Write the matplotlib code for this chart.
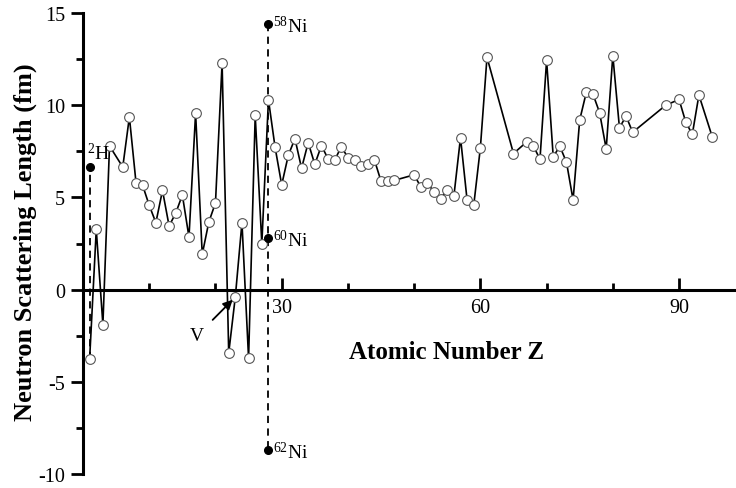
import matplotlib
matplotlib.use("Agg")
import matplotlib.pyplot as plt
from matplotlib.ticker import MultipleLocator

plt.rcParams["font.family"] = ["Liberation Serif", "DejaVu Serif"]
plt.rcParams["mathtext.fontset"] = "custom"
plt.rcParams["mathtext.rm"] = "Liberation Serif"
plt.rcParams["mathtext.default"] = "rm"
plt.rcParams["axes.unicode_minus"] = False

# Coherent neutron scattering lengths of the elements (fm)
atomic_number = [1, 2, 3, 4, 6, 7, 8, 9, 10, 11, 12, 13, 14, 15, 16, 17, 18, 19, 20,
                 21, 22, 23, 24, 25, 26, 27, 28, 29, 30, 31, 32, 33, 34, 35, 36, 37,
                 38, 39, 40, 41, 42, 43, 44, 45, 46, 47, 50, 51, 52, 53, 54, 55, 56,
                 57, 58, 59, 60, 61, 65, 67, 68, 69, 70, 71, 72, 73, 74, 75, 76, 77,
                 78, 79, 80, 81, 82, 83, 88, 90, 91, 92, 93, 95]
scattering_length = [-3.74, 3.26, -1.90, 7.79, 6.646, 9.36, 5.803, 5.654, 4.566, 3.63,
                     5.375, 3.449, 4.149, 5.13, 2.847, 9.577, 1.909, 3.67, 4.70, 12.29,
                     -3.438, -0.382, 3.635, -3.73, 9.45, 2.49, 10.3, 7.718, 5.68, 7.288,
                     8.185, 6.58, 7.97, 6.795, 7.81, 7.09, 7.02, 7.75, 7.16, 7.054, 6.715,
                     6.8, 7.03, 5.88, 5.91, 5.922, 6.225, 5.57, 5.80, 5.28, 4.92, 5.42,
                     5.07, 8.24, 4.84, 4.58, 7.69, 12.6, 7.38, 8.01, 7.79, 7.07, 12.43,
                     7.21, 7.77, 6.91, 4.86, 9.2, 10.7, 10.6, 9.6, 7.63, 12.692, 8.776,
                     9.405, 8.532, 10.0, 10.31, 9.1, 8.417, 10.55, 8.3]

# Selected isotopes
hydrogen_z = 1
hydrogen_b = -3.74
deuterium_b = 6.671
nickel_z = 28
nickel_isotopes = ["58", "60", "62"]
nickel_isotope_b = [14.4, 2.8, -8.7]

y_ticks = [-10, -5, 0, 5, 10, 15]
x_ticks = [30, 60, 90]

fig = plt.figure(figsize=(7.36, 4.89), dpi=100)
ax = fig.add_axes([0.1128, 0.0286, 0.8872, 0.9428])

# isotope dashed connectors
ax.plot([hydrogen_z, hydrogen_z], [hydrogen_b, deuterium_b], ls=(0, (4, 3)),
        color="black", lw=1.3, zorder=2)
ax.plot([nickel_z, nickel_z], [max(nickel_isotope_b), min(nickel_isotope_b)],
        ls=(0, (4, 3)), color="black", lw=1.3, zorder=2)

# element series
ax.plot(atomic_number, scattering_length, color="black", lw=1.2, marker="o",
        markersize=7, markerfacecolor="white", markeredgecolor="#555555",
        markeredgewidth=0.8, zorder=3)

# isotope points
ax.plot([hydrogen_z], [deuterium_b], "o", color="black", markersize=5.5, zorder=4)
ax.plot([nickel_z] * len(nickel_isotope_b), nickel_isotope_b, "o", color="black",
        markersize=5.5, zorder=4)

ax.text(hydrogen_z - 0.35, deuterium_b + 0.75, "$^{2}$H", fontsize=14,
        ha="left", va="center")
for iso, b in zip(nickel_isotopes, nickel_isotope_b):
    ax.text(nickel_z + 0.7, b - 0.1, "$^{%s}$Ni" % iso, fontsize=14,
            ha="left", va="center")

ax.annotate("V", xy=(22.6, -0.55), xytext=(17.2, -2.5), fontsize=14,
            ha="center", va="center",
            arrowprops=dict(arrowstyle="-|>", color="black", lw=1.3,
                            mutation_scale=14, shrinkA=6, shrinkB=0))

ax.text(54.9, -3.37, "Atomic Number Z", fontsize=18, fontweight="bold",
        ha="center", va="center")
fig.text(25 / 736, 1 - 242 / 489, "Neutron Scattering Length (fm)", fontsize=19,
         fontweight="bold", rotation=90, ha="center", va="center")

ax.set_xlim(0, 98.6)
ax.set_ylim(-10, 15)
ax.spines["top"].set_visible(False)
ax.spines["right"].set_visible(False)
ax.spines["bottom"].set_position(("data", 0))
ax.spines["left"].set_linewidth(2.2)
ax.spines["bottom"].set_linewidth(2.2)

ax.set_xticks(x_ticks)
ax.set_xticklabels([str(t) for t in x_ticks])
ax.xaxis.set_minor_locator(MultipleLocator(10))
ax.set_yticks(y_ticks)
ax.set_yticklabels([str(t) for t in y_ticks])
ax.yaxis.set_minor_locator(MultipleLocator(2.5))

ax.tick_params(axis="x", which="major", direction="in", length=9, width=2,
               labelsize=14.5, pad=6)
ax.tick_params(axis="x", which="minor", direction="in", length=5, width=2)
ax.tick_params(axis="y", which="major", direction="out", length=9, width=2,
               labelsize=14.5, pad=4)
ax.tick_params(axis="y", which="minor", direction="out", length=5, width=2)

fig.savefig("out.png", dpi=100)
